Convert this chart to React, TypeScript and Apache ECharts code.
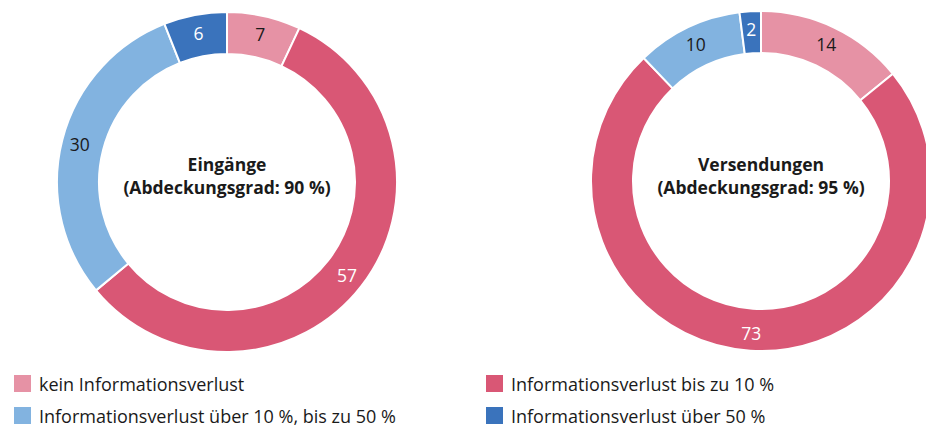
import React, { useEffect, useRef } from "react";
import * as echarts from "echarts";

const categories = [
  "kein Informationsverlust",
  "Informationsverlust bis zu 10 %",
  "Informationsverlust über 10 %, bis zu 50 %",
  "Informationsverlust über 50 %",
];
const eingaengeValues = [7, 57, 30, 6];
const versendungenValues = [14, 73, 10, 2];
const chartTitles = ["Eingänge\n(Abdeckungsgrad: 90 %)", "Versendungen\n(Abdeckungsgrad: 95 %)"];

const colors = ["#E692A5", "#D95775", "#82B3E0", "#3A73BC"];
const labelColors = ["#1a1a1a", "#ffffff", "#1a1a1a", "#ffffff"];
const FONT = "'Open Sans', 'Noto Sans', sans-serif";

export default function App() {
  const ref = useRef<HTMLDivElement>(null);
  useEffect(() => {
    if (!ref.current) return;
    const chart = echarts.init(ref.current, undefined, { renderer: "svg" });
    const mk = (vals: number[]) =>
      vals.map((v, i) => ({
        name: categories[i],
        value: v,
        itemStyle: { color: colors[i] },
        label: { color: labelColors[i] },
      }));
    const seriesBase = {
      type: "pie",
      radius: [128, 170],
      startAngle: 90,
      clockwise: true,
      avoidLabelOverlap: false,
      itemStyle: { borderColor: "#ffffff", borderWidth: 2 },
      label: {
        show: true,
        position: "inside",
        formatter: "{c}",
        fontFamily: FONT,
        fontSize: 17.5,
      },
      labelLine: { show: false },
      emphasis: { disabled: true },
    };
    const legendBase = {
      orient: "vertical",
      top: 373,
      height: 120,
      itemWidth: 19,
      itemHeight: 19,
      itemGap: 11,
      icon: "rect",
      padding: 0,
      textStyle: {
        fontFamily: FONT,
        fontSize: 18,
        lineHeight: 19,
        color: "#1a1a1a",
        padding: [0, 0, 0, 2],
      },
      selectedMode: false,
    };
    chart.setOption({
      animation: false,
      textStyle: { fontFamily: FONT },
      legend: [
        { ...legendBase, data: [categories[0], categories[2]], left: 12 },
        { ...legendBase, data: [categories[1], categories[3]], left: 484 },
      ],
      graphic: [
        {
          type: "text",
          x: 227,
          y: 175,
          style: {
            text: chartTitles[0],
            align: "center",
            verticalAlign: "middle",
            font: `bold 17.5px ${FONT}`,
            lineHeight: 23,
            fill: "#1a1a1a",
          },
        },
        {
          type: "text",
          x: 761,
          y: 175,
          style: {
            text: chartTitles[1],
            align: "center",
            verticalAlign: "middle",
            font: `bold 17.5px ${FONT}`,
            lineHeight: 23,
            fill: "#1a1a1a",
          },
        },
      ],
      series: [
        { ...seriesBase, name: "Eingänge", center: [227, 182], data: mk(eingaengeValues) },
        { ...seriesBase, name: "Versendungen", center: [761, 181], data: mk(versendungenValues) },
      ],
    });
    return () => chart.dispose();
  }, []);
  return (
    <div
      ref={ref}
      style={{ position: "fixed", left: 0, top: 0, width: 926, height: 426, background: "#fff" }}
    />
  );
}
